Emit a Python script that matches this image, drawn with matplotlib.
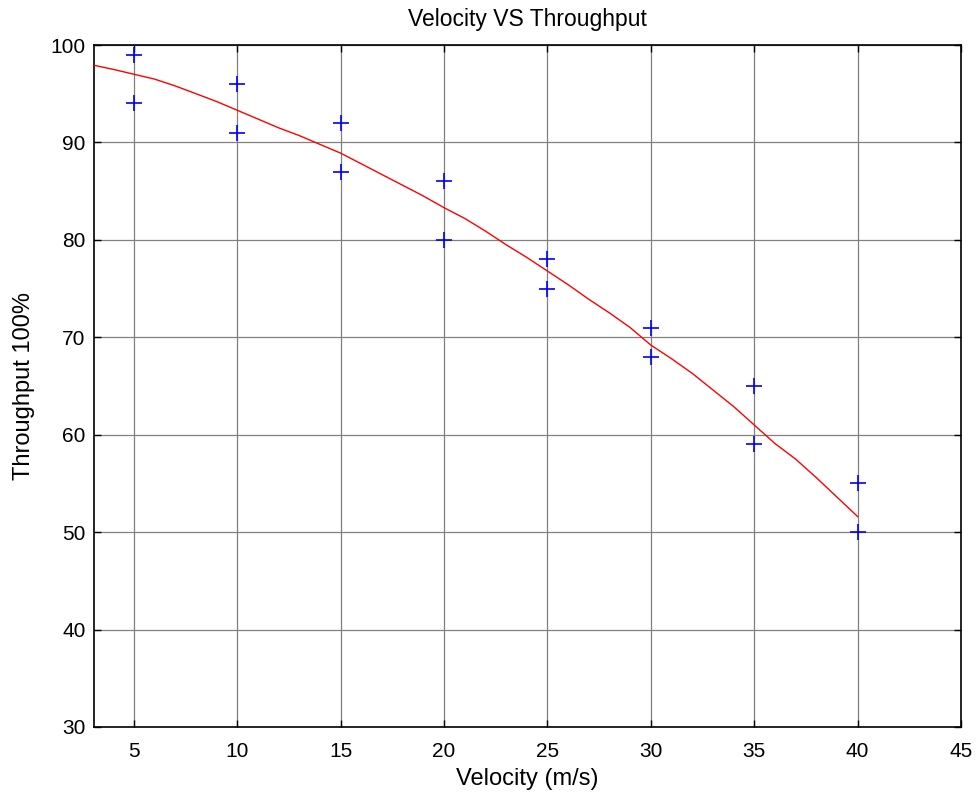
import matplotlib
matplotlib.use("Agg")
import matplotlib.pyplot as plt

# Measured points (blue '+')
vel_pts = [5, 5, 10, 10, 15, 15, 20, 20, 25, 25, 30, 30, 35, 35, 40, 40]
thr_pts = [99, 94, 96, 91, 92, 87, 86, 80, 78, 75, 71, 68, 65, 59, 55, 50]

# Fitted curve (red line)
vel_fit = list(range(3, 41))
thr_fit = [97.95, 97.5, 97.0, 96.5, 95.8, 95.0, 94.2, 93.3, 92.4, 91.5,
           90.7, 89.8, 88.9, 87.8, 86.7, 85.6, 84.5, 83.3, 82.2, 80.9,
           79.5, 78.2, 76.8, 75.4, 73.9, 72.5, 71.0, 69.2, 67.8, 66.3,
           64.6, 62.9, 61.0, 59.1, 57.5, 55.6, 53.6, 51.6]

x_ticks = [5, 10, 15, 20, 25, 30, 35, 40, 45]
y_ticks = [30, 40, 50, 60, 70, 80, 90, 100]

plt.rcParams['font.family'] = ['Liberation Sans', 'DejaVu Sans']

fig = plt.figure(figsize=(9.79, 7.98), dpi=100)
ax = fig.add_axes([0.096, 0.089, 0.8856, 0.8546])

ax.plot(vel_fit, thr_fit, color='red', lw=1.0, zorder=3)
ax.plot(vel_pts, thr_pts, linestyle='none', marker='+', color='blue',
        markersize=12, markeredgewidth=1.2, zorder=4)

ax.set_xlim(3.07, 45)
ax.set_ylim(30, 100)
ax.set_xticks(x_ticks)
ax.set_yticks(y_ticks)
ax.grid(True, color='#808080', lw=0.9, linestyle='-')
ax.set_axisbelow(True)
ax.tick_params(direction='in', length=5, width=1, top=True, right=True,
               labelsize=15)
ax.tick_params(axis='x', pad=11)
ax.tick_params(axis='y', pad=6)
for s in ax.spines.values():
    s.set_linewidth(1.2)
    s.set_color('black')

ax.set_title('Velocity VS Throughput', fontsize=16.5, pad=14)
ax.set_xlabel('Velocity (m/s)', fontsize=17, labelpad=5)
ax.set_ylabel('Throughput 100%', fontsize=17, labelpad=11)

fig.savefig('out.png', dpi=100)
